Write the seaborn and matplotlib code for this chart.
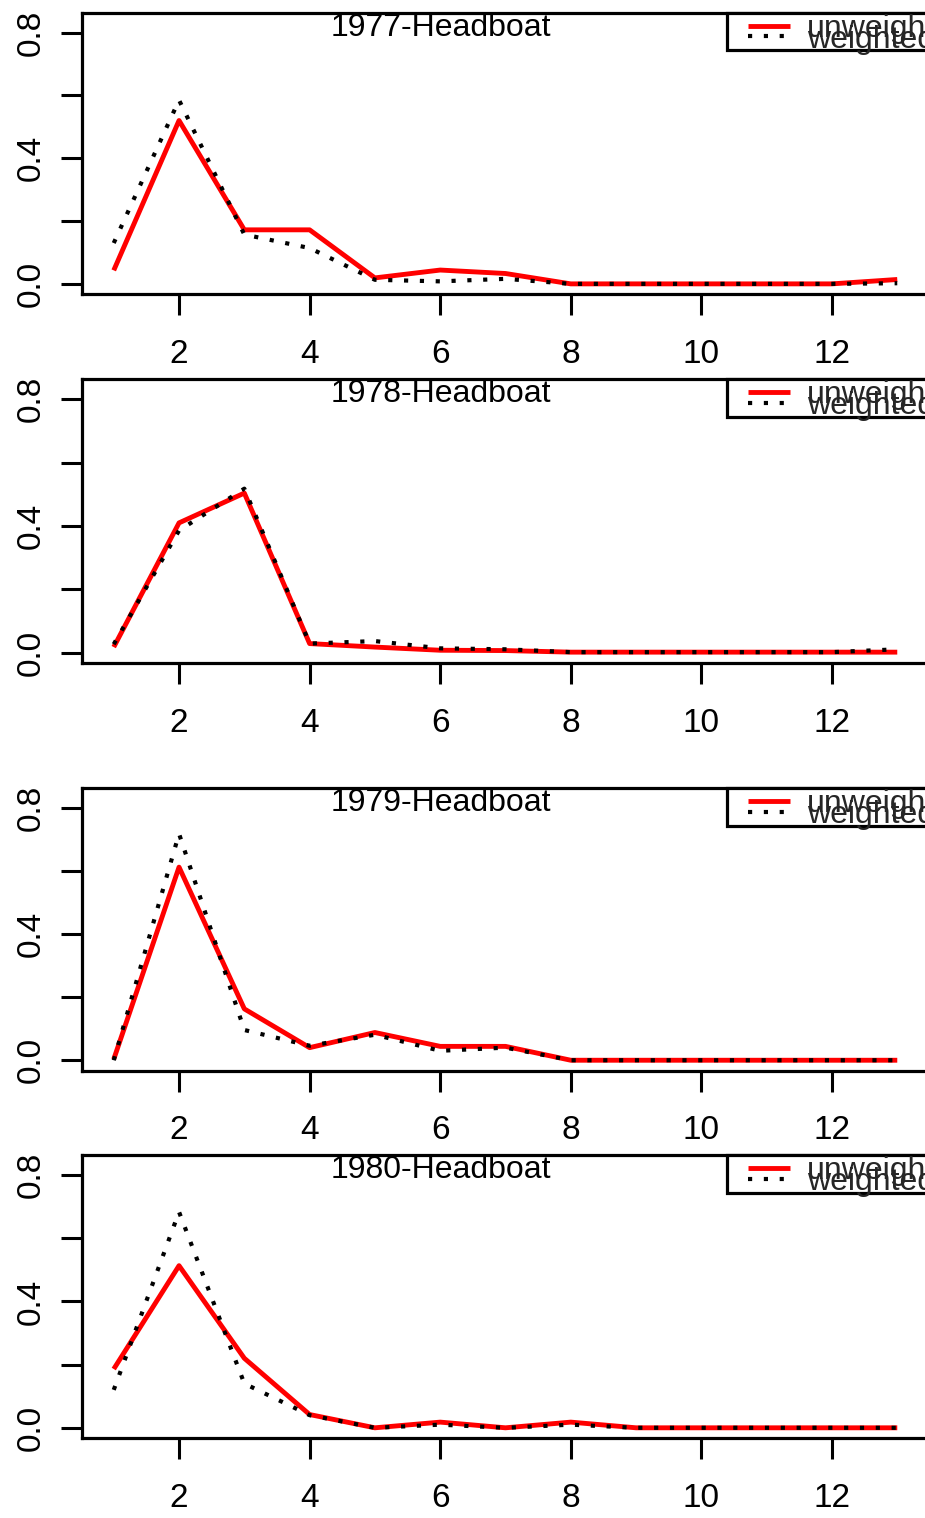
import matplotlib
matplotlib.use("Agg")
import matplotlib.pyplot as plt
from matplotlib.patches import Rectangle
import seaborn as sns
import numpy as np

ages = list(range(1, 14))
years = ["1977", "1978", "1979", "1980"]
titles = [f"{y}-Headboat" for y in years]

unweighted_1977 = [0.043, 0.52, 0.172, 0.172, 0.019, 0.044, 0.033, 0.0, 0.0, 0.0, 0.0, 0.0, 0.014]
weighted_1977 = [0.13, 0.585, 0.157, 0.114, 0.013, 0.008, 0.016, 0.0, 0.0, 0.0, 0.0, 0.0, 0.002]
unweighted_1978 = [0.018, 0.41, 0.504, 0.029, 0.018, 0.008, 0.007, 0.002, 0.002, 0.002, 0.002, 0.002, 0.002]
weighted_1978 = [0.027, 0.386, 0.518, 0.029, 0.037, 0.014, 0.011, 0.002, 0.002, 0.002, 0.002, 0.002, 0.011]
unweighted_1979 = [0.003, 0.613, 0.163, 0.040, 0.088, 0.044, 0.044, 0.0, 0.0, 0.0, 0.0, 0.0, 0.0]
weighted_1979 = [0.0, 0.719, 0.096, 0.046, 0.081, 0.030, 0.040, 0.0, 0.0, 0.0, 0.0, 0.0, 0.0]
unweighted_1980 = [0.186, 0.513, 0.22, 0.042, 0.0, 0.018, 0.0, 0.018, 0.0, 0.0, 0.0, 0.0, 0.0]
weighted_1980 = [0.12, 0.683, 0.14, 0.040, 0.0, 0.01, 0.0, 0.01, 0.0, 0.0, 0.0, 0.0, 0.0]

unweighted = [unweighted_1977, unweighted_1978, unweighted_1979, unweighted_1980]
weighted = [weighted_1977, weighted_1978, weighted_1979, weighted_1980]

xticks = [2, 4, 6, 8, 10, 12]
yticks = [0.0, 0.2, 0.4, 0.6, 0.8]
ytick_labels = ["0.0", "", "0.4", "", "0.8"]

sns.set_style("white")
plt.rcParams["font.family"] = ["Liberation Sans", "DejaVu Sans"]

W, H = 925, 1518
fig = plt.figure(figsize=(W / 100, H / 100), dpi=100)

# panel (top, bottom) in pixels
panels = [(12.7, 294.3), (379.3, 663.3), (788.3, 1070.7), (1155.0, 1438.3)]
left_px, right_px = 82.4, 928.6
ax_w = right_px - left_px

for i, (top, bot) in enumerate(panels):
    ax_h = bot - top
    ax = fig.add_axes([left_px / W, 1 - bot / H, ax_w / W, ax_h / H])
    sns.lineplot(x=ages, y=unweighted[i], ax=ax, color="#ff0000", lw=3.5,
                 label="unweighted", solid_capstyle="butt")
    sns.lineplot(x=ages, y=weighted[i], ax=ax, color="black", lw=3.0,
                 linestyle=(0, (1.0, 2.8)), label="weighted", dash_capstyle="butt")
    ax.set_xlim(0.52, 13.48)
    ax.set_ylim(-0.0332, 0.8632)
    ax.set_xticks(xticks)
    ax.set_xticklabels([str(t) for t in xticks])
    ax.set_yticks(yticks)
    ax.set_yticklabels(ytick_labels)
    ax.set_xlabel("")
    ax.set_ylabel("")
    for s in ax.spines.values():
        s.set_visible(True)
        s.set_color("black")
        s.set_linewidth(2.3)
    ax.tick_params(axis="both", direction="out", length=15, width=2.2, color="black",
                   labelsize=24, labelcolor="black")
    ax.tick_params(axis="x", pad=17, bottom=True)
    ax.tick_params(axis="y", pad=11, left=True, labelrotation=90)
    for lab in ax.get_yticklabels():
        lab.set_va("center")
    ax.text(0.4238, 1.0, titles[i], transform=ax.transAxes, ha="center", va="top",
            fontsize=23, color="black")
    # legend box (R-style, extends beyond the figure edge)
    box_left = (727.3 - left_px) / ax_w
    box_h = 37.5 / ax_h
    ax.add_patch(Rectangle((box_left, 1 - box_h), 0.5, box_h, transform=ax.transAxes,
                           facecolor="white", edgecolor="black", lw=2.3,
                           clip_on=False, zorder=4))
    leg = ax.legend(loc="upper left",
                    bbox_to_anchor=((748 - left_px) / ax_w, 1 - 1.0 / ax_h),
                    borderaxespad=0, borderpad=0, fontsize=23, frameon=False,
                    handlelength=1.31, handletextpad=0.53, labelspacing=-0.6)
    leg.set_zorder(5)

fig.savefig("out.png", dpi=100)
